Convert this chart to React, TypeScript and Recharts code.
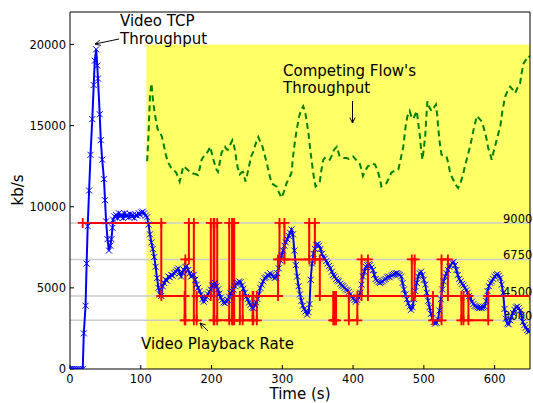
import React from 'react';
import { LineChart, Line, XAxis, YAxis, ReferenceArea, ReferenceLine } from 'recharts';

const timeTicks = [0, 100, 200, 300, 400, 500, 600];
const rateTicks = [0, 5000, 10000, 15000, 20000];
const playbackLevels = [9000, 6750, 4500, 3000];
const competingWindow = [108, 650];
const playbackEnd = 650;

// [time (s), kb/s]
const videoThroughput: [number, number][] = [
  [0, 0], [3, 0], [6, 0], [9, 0], [12, 0], [15, 0], [18, 0], [19.5, 2200], [22, 3900], [23.5, 6500],
  [25, 8800], [27, 11000], [29, 13200], [31.5, 15400], [33.5, 17500], [35, 19000], [37, 19700], [38.5, 18700],
  [39.5, 17900], [42, 15700], [43.5, 14100], [45.5, 12900], [48, 11700], [49.5, 10400], [51, 9100], [53, 8000],
  [55, 7300], [57, 7600], [58.5, 8000], [60, 8700], [61, 9200], [63, 9400], [65, 9500], [67, 9300], [69, 9600],
  [71, 9400], [73, 9500], [75, 9300], [77, 9600], [79, 9400], [81, 9500], [83, 9350], [85, 9550], [87, 9400],
  [89, 9500], [91, 9300], [93, 9500], [95, 9450], [97, 9600], [99, 9500], [101, 9650], [103, 9700], [105, 9600],
  [107, 9450], [109, 9350], [111, 8900], [113, 8300], [115, 7800], [117, 7400], [119, 6900], [121, 6300],
  [123, 5600], [125, 5000], [127, 4600], [129, 4500], [131, 5100], [133, 5300], [135, 5500], [137, 5450],
  [139, 5700], [141, 5650], [143, 5800], [145, 5750], [147, 5900], [149, 6000], [151, 6100], [153, 6200],
  [155, 5900], [157, 5700], [159, 5950], [161, 6100], [163, 6300], [165, 6350], [167, 6100], [169, 5900],
  [171, 5700], [173, 5750], [175, 5800], [177, 5500], [179, 5200], [181, 5000], [183, 4800], [185, 4600],
  [187, 4300], [189, 4150], [191, 4300], [193, 4450], [195, 4600], [197, 4750], [199, 4900], [201, 5150],
  [203, 5200], [205, 5300], [207, 5100], [209, 4900], [211, 4650], [213, 4400], [215, 4250], [217, 4100],
  [219, 4050], [221, 4150], [223, 4250], [225, 4450], [227, 4650], [229, 4800], [231, 4900], [233, 5100],
  [235, 5250], [237, 5300], [239, 5400], [241, 5350], [243, 5150], [245, 4950], [247, 4700], [249, 4450],
  [251, 4300], [253, 4100], [255, 3950], [257, 3800], [259, 3750], [261, 3950], [263, 4100], [265, 4300],
  [267, 4600], [269, 5000], [271, 5200], [273, 5400], [275, 5600], [277, 5650], [279, 5800], [281, 5750],
  [283, 5900], [285, 5800], [287, 5700], [289, 5600], [291, 5650], [293, 5900], [295, 6200], [297, 6700],
  [299, 7000], [301, 7300], [303, 7600], [305, 7800], [307, 8000], [309, 8200], [311, 8400], [313, 8600],
  [315, 8300], [317, 7300], [319, 6400], [321, 5700], [323, 5100], [325, 4600], [327, 4200], [329, 3900],
  [331, 3700], [333, 3550], [335, 3350], [337, 3500], [338.5, 4000], [340, 5500], [342, 6500], [344, 7100],
  [346, 7400], [348, 7650], [350, 7700], [352, 7600], [354, 7400], [356, 7100], [358, 6900], [360, 6800],
  [362, 6650], [364, 6500], [366, 6350], [368, 6200], [370, 6000], [372, 5800], [374, 5700], [376, 5550],
  [378, 5450], [380, 5400], [382, 5250], [384, 5150], [386, 5100], [388, 5000], [390, 4900], [392, 4850],
  [394, 4750], [396, 4600], [398, 4450], [400, 4350], [402, 4250], [404, 4150], [406, 4250], [408, 4400],
  [410, 4700], [412, 5200], [414, 5700], [416, 6000], [418, 6300], [420, 6400], [422, 6450], [424, 6400],
  [426, 6250], [428, 6100], [430, 5800], [432, 5550], [434, 5450], [436, 5350], [438, 5300], [440, 5350],
  [442, 5400], [444, 5500], [446, 5550], [448, 5650], [450, 5700], [452, 5650], [454, 5750], [456, 5800],
  [458, 5850], [460, 5900], [462, 5900], [464, 5850], [466, 5800], [468, 5700], [470, 5300], [472, 4900],
  [474, 4600], [476, 4300], [478, 4050], [480, 3850], [482, 3650], [484, 3800], [486, 4300], [488, 4800],
  [490, 5300], [492, 5700], [494, 5900], [496, 6000], [498, 5800], [500, 5500], [502, 5200], [504, 4700],
  [506, 4200], [508, 3800], [510, 3400], [512, 3150], [514, 2900], [516, 2800], [518, 2850], [520, 3050],
  [522, 3600], [524, 4300], [526, 4900], [528, 5400], [530, 5700], [532, 5900], [534, 6100], [536, 6300],
  [538, 6400], [540, 6550], [542, 6600], [544, 6400], [546, 6100], [548, 5800], [550, 5550], [552, 5400],
  [554, 5250], [556, 5150], [558, 5000], [560, 4850], [562, 4700], [564, 4500], [566, 4350], [568, 4150],
  [570, 4000], [572, 3900], [574, 3850], [576, 3800], [578, 3750], [580, 3780], [582, 3750], [584, 3800],
  [586, 3850], [588, 4200], [590, 4800], [592, 5100], [594, 5300], [596, 5400], [598, 5550], [600, 5700],
  [602, 5800], [604, 5850], [606, 5750], [608, 5600], [610, 5200], [612, 4700], [614, 3700], [616, 3100],
  [618, 2800], [620, 2750], [622, 3000], [624, 3250], [626, 3450], [628, 3650], [630, 3800], [632, 3850],
  [634, 3750], [636, 3600], [638, 3300], [640, 2900], [642, 2700], [644, 2550], [646, 2400], [648, 2300],
  [650, 2350],
];

// [start time (s), playback rate kb/s]; each level holds until the next start
const playbackSteps: [number, number][] = [
  [18, 9000], [129, 4500], [162, 3000], [163, 6750], [168, 9000], [175, 3000], [179, 4500], [199, 9000],
  [203, 3000], [204, 9000], [208, 3000], [225, 9000], [229, 3000], [230, 9000], [232, 3000], [240, 4500],
  [244, 3000], [258, 4500], [259, 3000], [264, 4500], [294, 6750], [296, 9000], [303, 6750], [338, 9000],
  [346, 6750], [353, 4500], [372, 3000], [373, 4500], [374, 3000], [376, 4500], [394, 3000], [406, 4500],
  [412, 6750], [421, 4500], [483, 6750], [487, 4500], [513, 3000], [525, 6750], [534, 4500], [553, 3000],
  [556, 4500], [563, 3000], [591, 4500],
];

const competingThroughput: [number, number][] = [
  [109, 12800], [111, 14500], [113, 16800], [115, 17600], [117, 16700], [119.5, 15800], [122, 15200],
  [124, 14750], [127, 14600], [130, 14300], [133, 13700], [136, 13100], [139, 12700], [143, 12400],
  [146, 12300], [150, 12100], [153, 11800], [155, 11550], [157, 11900], [160, 12500], [163, 12400],
  [167, 12250], [170, 12100], [174, 12050], [178, 12000], [181, 11950], [184, 12500], [186, 12900],
  [189, 13100], [193, 13300], [196, 13500], [198, 13700], [201, 13200], [204, 12700], [207, 12300],
  [209, 12150], [212, 12800], [214, 13300], [217, 13600], [219, 13700], [221, 13550], [223, 13500],
  [226, 13800], [229.5, 14100], [231, 13900], [233, 13500], [235, 12900], [237, 12400], [240, 12000],
  [242, 12100], [244.5, 12150], [246, 11900], [248, 11550], [250, 11900], [252, 12300], [254, 12700],
  [256, 13100], [259, 13400], [261, 13700], [264, 14100], [266, 14300], [269, 14000], [272, 13700],
  [275, 13200], [278, 12700], [281, 12100], [285, 11450], [288, 11350], [292, 11250], [295, 10900],
  [299, 10550], [302, 10900], [306, 11450], [310, 11800], [313, 12100], [315, 13000], [318, 14100],
  [321, 14900], [324, 15600], [327, 16000], [329.5, 16200], [332, 15900], [334, 15400], [337, 14500],
  [339, 13700], [341, 13000], [343, 12300], [345, 11700], [347, 11250], [350, 11350], [353, 11550],
  [355, 12200], [358, 12900], [361, 13050], [364, 13000], [367, 12900], [370, 13150], [373, 13500],
  [377, 13700], [379, 13400], [381, 13100], [384, 13050], [387, 13000], [391, 13000], [394, 12950],
  [397, 13050], [400, 13100], [403, 12950], [406, 12800], [409, 12700], [412, 12300], [414, 11900],
  [417, 12200], [421, 12500], [425, 12550], [428, 12650], [431, 12600], [433, 12400], [435.5, 12100],
  [438, 11700], [440, 11250], [443, 11350], [447, 11450], [450, 11700], [454, 12100], [458, 12200],
  [461, 12250], [464, 12300], [467, 12900], [469, 13300], [471, 13700], [473, 14500], [475, 15200],
  [477, 15600], [480, 15900], [482, 15600], [485, 15400], [487, 15600], [490, 15900], [492, 15200],
  [494.5, 14300], [496, 13600], [498, 12900], [500, 13600], [502, 14400], [503.5, 15500], [505, 16500],
  [508, 16100], [511, 15900], [514, 16100], [517, 16300], [519, 15600], [520, 15000], [522, 14100],
  [525, 13200], [528, 13150], [532, 13100], [535, 12600], [537, 12100], [540, 11800], [544, 11450],
  [546, 11300], [548.5, 11150], [552, 11500], [555.5, 12000], [558, 12500], [560.5, 12900], [564, 13500],
  [567.5, 14150], [571, 14900], [575, 15600], [578, 15450], [582, 15250], [584, 14950], [586, 14650],
  [589, 14100], [591, 13600], [594, 13200], [596, 12900], [598, 13300], [600.5, 13700], [604, 14300],
  [608, 14950], [611, 15900], [615, 16800], [618, 17100], [622, 17400], [625, 17250], [629, 17000],
  [632, 17300], [636, 17600], [638, 18200], [641, 18850], [645, 19100], [648, 19300], [650, 19200],
];

const blueData = videoThroughput.map(([t, v]) => ({ t, v }));
const greenData = competingThroughput.map(([t, v]) => ({ t, v }));
const redData = playbackSteps
  .flatMap(([t, v], i) => (i === 0 ? [{ t, v }] : [{ t, v: playbackSteps[i - 1][1] }, { t, v }]))
  .concat([{ t: playbackEnd, v: playbackSteps[playbackSteps.length - 1][1] }]);

const FONT = '"DejaVu Sans", sans-serif';

const XMark = (props: any) => {
  const { cx, cy, index } = props;
  if (cx == null || cy == null) return <g key={`x-${index}`} />;
  const s = 3;
  return (
    <path key={`x-${index}`} d={`M${cx - s},${cy - s}L${cx + s},${cy + s}M${cx - s},${cy + s}L${cx + s},${cy - s}`}
      stroke="#0000ff" strokeWidth={1} fill="none" />
  );
};

const PlusMark = (props: any) => {
  const { cx, cy, index } = props;
  if (cx == null || cy == null) return <g key={`p-${index}`} />;
  const s = 5;
  return (
    <path key={`p-${index}`} d={`M${cx - s},${cy}L${cx + s},${cy}M${cx},${cy - s}L${cx},${cy + s}`}
      stroke="#ff0000" strokeWidth={1.8} fill="none" />
  );
};

const LevelLabel = (props: any) => {
  const { viewBox, value } = props;
  if (!viewBox) return null;
  return (
    <text x={viewBox.x + viewBox.width - 27} y={viewBox.y} fontSize={11.5} fill="#000" fontFamily={FONT}>
      {value}
    </text>
  );
};

const Arrow = ({ x1, y1, x2, y2 }: { x1: number; y1: number; x2: number; y2: number }) => {
  const a = Math.atan2(y2 - y1, x2 - x1);
  const h = 6;
  const w = 0.45;
  const p1 = [x2 - h * Math.cos(a - w), y2 - h * Math.sin(a - w)];
  const p2 = [x2 - h * Math.cos(a + w), y2 - h * Math.sin(a + w)];
  return (
    <path d={`M${x1},${y1}L${x2},${y2}M${p1[0]},${p1[1]}L${x2},${y2}L${p2[0]},${p2[1]}`}
      stroke="#000" strokeWidth={1} fill="none" />
  );
};

export default function App() {
  return (
    <div style={{ position: 'relative', width: 533, height: 403, fontFamily: FONT, background: '#fff' }}>
      <style>{'body{margin:0}'}</style>
      <LineChart width={533} height={403} margin={{ top: 11, right: 2, bottom: 0, left: 0 }}>
        <ReferenceArea x1={competingWindow[0]} x2={competingWindow[1]} y1={0} y2={20000}
          fill="#ffff66" fillOpacity={1} stroke="none" />
        {playbackLevels.map((lvl) => (
          <ReferenceLine key={lvl} y={lvl} stroke="#cccccc" strokeWidth={1.5}
            label={<LevelLabel value={String(lvl)} />} />
        ))}
        <XAxis dataKey="t" type="number" domain={[0, 650]} ticks={timeTicks} interval={0} height={34}
          tickSize={-4} tickMargin={10} tick={{ fontSize: 11.5, fill: '#000' }}
          axisLine={{ stroke: '#000' }} tickLine={{ stroke: '#000' }} allowDataOverflow />
        <XAxis xAxisId="top" orientation="top" dataKey="t" type="number" domain={[0, 650]} ticks={timeTicks}
          interval={0} height={1} tickSize={-4} tick={false}
          axisLine={{ stroke: '#000' }} tickLine={{ stroke: '#000' }} allowDataOverflow />
        <YAxis type="number" domain={[0, 22000]} ticks={rateTicks} interval={0} width={70}
          tickSize={-4} tickMargin={8} tick={{ fontSize: 11.5, fill: '#000' }}
          axisLine={{ stroke: '#000' }} tickLine={{ stroke: '#000' }} allowDataOverflow />
        <YAxis yAxisId="right" orientation="right" type="number" domain={[0, 22000]} ticks={rateTicks}
          interval={0} width={1} tickSize={-4} tick={false}
          axisLine={{ stroke: '#000' }} tickLine={{ stroke: '#000' }} allowDataOverflow />
        <Line data={greenData} dataKey="v" type="linear" stroke="#008000" strokeWidth={2}
          strokeDasharray="6 4" dot={false} activeDot={false} isAnimationActive={false} />
        <Line data={blueData} dataKey="v" type="linear" stroke="#0000ff" strokeWidth={2}
          dot={XMark} activeDot={false} isAnimationActive={false} />
        <Line data={redData} dataKey="v" type="linear" stroke="#ff0000" strokeWidth={2}
          dot={PlusMark} activeDot={false} isAnimationActive={false} />
      </LineChart>
      <svg width={533} height={403} style={{ position: 'absolute', left: 0, top: 0, pointerEvents: 'none' }}
        fontFamily={FONT}>
        <text x={300} y={399} fontSize={15} textAnchor="middle" fill="#000">Time (s)</text>
        <text transform="translate(23,190) rotate(-90)" fontSize={15} textAnchor="middle" fill="#000">kb/s</text>
        <text x={120} y={26} fontSize={15} fill="#000">Video TCP</text>
        <text x={120} y={44} fontSize={15} fill="#000">Throughput</text>
        <Arrow x1={119} y1={39} x2={95} y2={44} />
        <text x={283} y={76} fontSize={15} fill="#000">Competing Flow's</text>
        <text x={283} y={93} fontSize={15} fill="#000">Throughput</text>
        <Arrow x1={352.5} y1={101} x2={352.5} y2={123} />
        <text x={141} y={349} fontSize={15} fill="#000">Video Playback Rate</text>
        <Arrow x1={208} y1={331} x2={200} y2={323} />
      </svg>
    </div>
  );
}
